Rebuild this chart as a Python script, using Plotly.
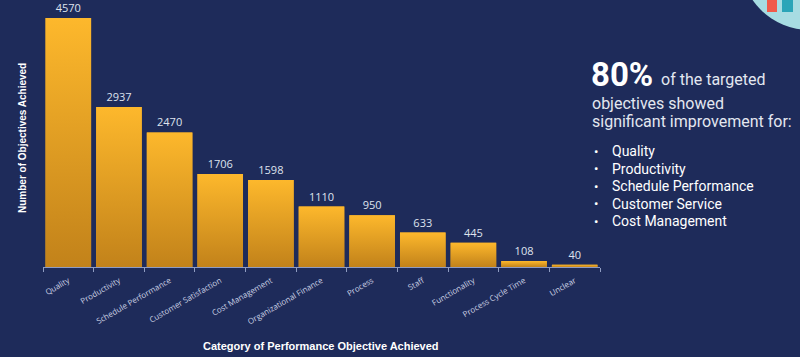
import plotly.graph_objects as go

categories = ["Quality", "Productivity", "Schedule Performance", "Customer Satisfaction",
              "Cost Management", "Organizational Finance", "Process", "Staff",
              "Functionality", "Process Cycle Time", "Unclear"]
values = [4570, 2937, 2470, 1706, 1598, 1110, 950, 633, 445, 108, 40]

headline = "80%"
headline_rest = "of the targeted"
para_lines = ["objectives showed", "significant improvement for:"]
bullets = ["Quality", "Productivity", "Schedule Performance", "Customer Service", "Cost Management"]

BG = "#1e2b5a"
W, H = 800, 357
L, R, T, B = 43, 200, 10, 90
PW, PH = W - L - R, H - T - B

def px(x):
    return (x - L) / PW

def py(y):
    return (H - B - y) / PH

idx = list(range(len(categories)))
fig = go.Figure()

fig.add_trace(go.Bar(
    x=idx, y=values, width=0.9,
    marker=dict(color="#e9a224", line=dict(width=0)),
    text=[str(v) for v in values], textposition="outside",
    textfont=dict(family="Open Sans", size=11, color="#dfe3ee"),
    cliponaxis=False, hoverinfo="skip", showlegend=False,
))

half = 0.45
for i, v in zip(idx, values):
    fig.add_trace(go.Scatter(
        x=[i - half, i - half, i + half, i + half, i - half],
        y=[0, v, v, 0, 0],
        mode="lines", line=dict(width=0), fill="toself",
        fillgradient=dict(type="vertical",
                          colorscale=[[0, "#c2821a"], [1, "#fdb82c"]]),
        hoverinfo="skip", showlegend=False,
    ))

fig.update_layout(
    width=W, height=H,
    margin=dict(l=L, r=R, t=T, b=B, autoexpand=False),
    paper_bgcolor=BG, plot_bgcolor=BG,
    xaxis=dict(range=[-0.5, len(categories) - 0.5], tickmode="array",
               tickvals=idx, ticktext=categories, tickangle=-30,
               ticks="", showgrid=False, zeroline=False, automargin=False,
               ticklabelstandoff=5,
               showline=True, linecolor="#8f9cc2", linewidth=1,
               tickfont=dict(family="Open Sans", size=8, color="#c9cfe2"),
               minor=dict(tick0=-0.5, dtick=1, ticks="outside", ticklen=4,
                          tickcolor="#8f9cc2", showgrid=False)),
    yaxis=dict(range=[0, 4717], showticklabels=False, showgrid=False,
               zeroline=False, ticks="", automargin=False),
)

annotations = [
    dict(text="<b>Category of Performance Objective Achieved</b>", x=px(321), y=py(346),
         xanchor="center", font=dict(family="Liberation Sans", size=11, color="#ffffff")),
    dict(text="<b>Number of Objectives Achieved</b>", x=px(22), y=py(138), textangle=-90,
         xanchor="center", font=dict(family="Liberation Sans", size=10, color="#ffffff")),
]
annotations.append(dict(
    text=f"<b>{headline}</b>", x=px(589), y=py(74), xanchor="left",
    font=dict(family="Roboto", size=33, color="#ffffff")))
annotations.append(dict(
    text=headline_rest, x=px(659), y=py(79), xanchor="left",
    font=dict(family="Roboto", size=16, color="#e3e7f0")))
for k, line in enumerate(para_lines):
    annotations.append(dict(
        text=line, x=px(590), y=py(103 + 18 * k), xanchor="left",
        font=dict(family="Roboto", size=16, color="#e3e7f0")))
for k, item in enumerate(bullets):
    yy = py(151 + 17.5 * k)
    annotations.append(dict(text="•", x=px(592), y=yy, xanchor="left",
                            font=dict(family="Roboto", size=13, color="#ffffff")))
    annotations.append(dict(text=item, x=px(610), y=yy, xanchor="left",
                            font=dict(family="Roboto", size=14, color="#ffffff")))
for a in annotations:
    a.update(xref="paper", yref="paper", showarrow=False, yanchor="middle")
fig.update_layout(annotations=annotations)

# corner decoration
fig.add_shape(type="circle", xref="paper", yref="paper",
              x0=px(740), x1=px(880), y0=py(30), y1=py(-110),
              fillcolor="#a7dce2", line=dict(width=0), layer="above")
fig.add_shape(type="rect", xref="paper", yref="paper",
              x0=px(767), x1=px(777), y0=py(12), y1=py(-2),
              fillcolor="#f05a4a", line=dict(width=0), layer="above")
fig.add_shape(type="rect", xref="paper", yref="paper",
              x0=px(782), x1=px(793), y0=py(12), y1=py(-2),
              fillcolor="#2aa5b8", line=dict(width=0), layer="above")

fig.write_html("out.html", config={"displayModeBar": False},
               post_script="document.body.style.margin='0';")
